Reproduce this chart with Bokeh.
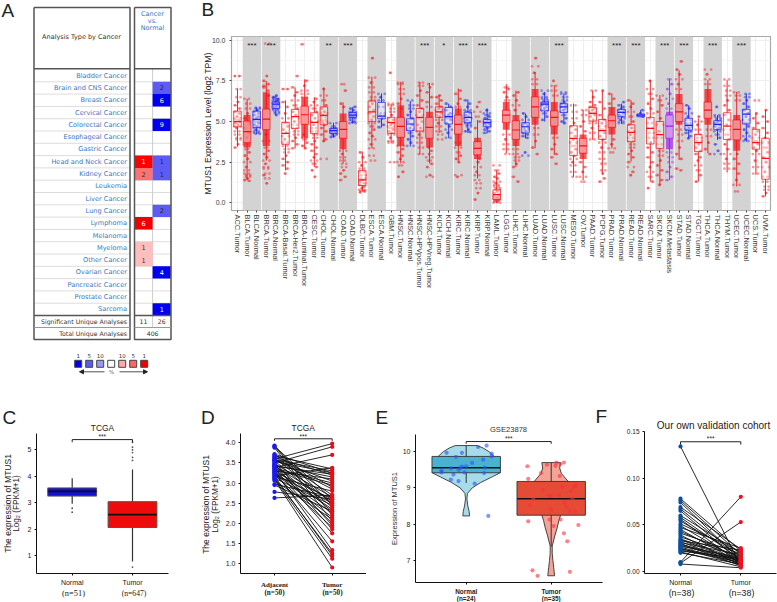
import math
from bokeh.plotting import figure
from bokeh.layouts import column, row
from bokeh.models import Label, Range1d, FixedTicker, Arrow, NormalHead
from bokeh.core.properties import value
from bokeh.embed import file_html
from bokeh.resources import INLINE

# ---------------- Panel A data ----------------
cancers = ["Bladder Cancer", "Brain and CNS Cancer", "Breast Cancer", "Cervical Cancer", "Colorectal Cancer",
           "Esophageal Cancer", "Gastric Cancer", "Head and Neck Cancer", "Kidney Cancer", "Leukemia", "Liver Cancer",
           "Lung Cancer", "Lymphoma", "Melanoma", "Myeloma", "Other Cancer", "Ovarian Cancer", "Pancreatic Cancer",
           "Prostate Cancer", "Sarcoma"]
up_rows = [7, 8, 12, 14, 15]
up_counts = [1, 2, 6, 1, 1]
up_colors = ["#ff0000", "#ff7272", "#ee0000", "#ffbdbd", "#ffbdbd"]
down_rows = [1, 2, 4, 7, 8, 11, 16, 19]
down_counts = [2, 6, 9, 1, 1, 2, 4, 1]
down_colors = ["#5c5cf5", "#0000ee", "#0000ee", "#5c5cf5", "#5c5cf5", "#5c5cf5", "#0000ee", "#0000ee"]
sig_up, sig_down, total_analyses = 11, 26, 406
legend_labels = ["1", "5", "10", "", "10", "5", "1"]
legend_colors = ["#0000ee", "#5c5cf0", "#9999f5", "#ffffff", "#ffaaaa", "#ff6666", "#ee0000"]

# ---------------- Panel B data ----------------
cats = ["ACC.Tumor", "BLCA.Tumor", "BLCA.Normal", "BRCA.Tumor", "BRCA.Normal", "BRCA-Basal.Tumor", "BRCA-Her2.Tumor",
        "BRCA-Luminal.Tumor", "CESC.Tumor", "CHOL.Tumor", "CHOL.Normal", "COAD.Tumor", "COAD.Normal", "DLBC.Tumor",
        "ESCA.Tumor", "ESCA.Normal", "GBM.Tumor", "HNSC.Tumor", "HNSC.Normal", "HNSC-HPVpos.Tumor", "HNSC-HPVneg.Tumor",
        "KICH.Tumor", "KICH.Normal", "KIRC.Tumor", "KIRC.Normal", "KIRP.Tumor", "KIRP.Normal", "LAML.Tumor", "LGG.Tumor",
        "LIHC.Tumor", "LIHC.Normal", "LUAD.Tumor", "LUAD.Normal", "LUSC.Tumor", "LUSC.Normal", "MESO.Tumor", "OV.Tumor",
        "PAAD.Tumor", "PCPG.Tumor", "PRAD.Tumor", "PRAD.Normal", "READ.Tumor", "READ.Normal", "SARC.Tumor", "SKCM.Tumor",
        "SKCM.Metastasis", "STAD.Tumor", "STAD.Normal", "TGCT.Tumor", "THCA.Tumor", "THCA.Normal", "THYM.Tumor",
        "UCEC.Tumor", "UCEC.Normal", "UCS.Tumor", "UVM.Tumor"]
q3 = [5.64,5.03,5.64,5.77,6.2,4.95,5.75,5.95,5.54,5.9,4.58,5.0,5.56,1.98,6.26,6.18,5.26,5.26,5.17,5.8,5.26,5.9,5.87,5.4,5.58,3.76,5.13,
      0.8,5.7,5.05,4.93,6.52,6.2,5.66,6.1,4.74,3.97,5.87,5.13,5.4,5.75,4.8,5.46,5.26,5.0,5.4,6.1,5.2,4.2,6.2,5.05,5.54,5.1,5.75,4.52,3.97]
med = [5.0,4.38,5.13,5.15,6.07,4.27,5.3,5.42,4.95,5.38,4.44,4.52,5.4,1.41,5.6,5.34,4.93,4.7,4.85,5.26,4.64,5.6,5.3,4.83,5.26,3.35,4.93,
       0.5,5.4,4.48,4.68,5.9,6.07,5.26,5.9,3.97,3.5,5.5,4.44,5.05,5.56,4.34,5.4,4.58,4.2,4.72,5.6,4.76,3.7,5.7,4.83,4.72,4.52,5.46,3.7,2.74]
q1 = [4.68,3.7,4.64,4.5,5.8,3.6,4.58,4.83,4.27,4.8,4.27,3.97,5.26,1.06,5.0,5.17,4.27,4.03,4.44,4.42,3.97,5.26,4.85,4.23,4.93,2.95,4.68,
      0.2,4.93,3.9,4.3,5.26,5.66,4.72,5.56,2.9,3.05,5.03,3.9,4.64,5.3,3.76,5.3,3.62,3.35,3.97,5.0,4.48,3.15,5.2,4.5,3.9,3.87,4.85,3.3,1.45]
whi = [7.03,6.4,5.87,7.5,6.6,6.3,7.1,7.6,6.5,7.1,4.93,6.18,5.9,3.15,7.75,6.73,6.1,7.44,6.26,7.44,7.38,6.63,6.1,7.03,6.36,5.1,5.8,
       2.0,7.3,6.9,5.5,8.05,6.83,7.24,6.73,6.1,5.7,6.9,6.9,6.73,6.1,6.3,5.7,7.55,6.63,7.65,8.16,6.0,5.2,7.55,5.4,7.55,6.83,6.73,5.5,5.7]
wlo = [3.46,1.4,4.23,2.6,5.4,2.0,3.35,3.35,2.2,3.76,4.03,2.43,4.9,0.7,3.35,4.64,3.66,2.43,3.46,2.95,2.43,4.3,3.97,2.54,4.3,1.5,4.27,
       0.0,3.05,2.2,3.97,3.35,5.0,2.95,4.9,1.6,1.4,3.87,1.8,3.35,4.85,2.54,5.26,1.3,1.1,1.4,2.64,3.97,1.3,3.05,3.87,1.87,1.0,3.76,1.72,0.4]
dense_idx = [1,3,7,11,17,20,23,25,28,29,31,33,36,39,45,46,49,52]
dense_lo = [3.4,3.5,4.0,3.3,3.5,3.4,3.5,2.7,4.5,3.5,4.8,4.2,2.7,4.2,3.3,4.8,4.8,3.2]
dense_hi = [5.4,6.8,6.5,5.5,6.0,5.6,5.8,4.0,6.2,5.4,7.0,6.2,4.2,5.9,5.6,6.7,7.0,5.4]
clouds = [
 [7.8,7.8,7.0,6.5,6.2,6.0,5.8,5.6,5.5,5.3,5.2,5.1,5.0,4.9,4.8,4.7,4.6,4.4,4.2,4.0,3.9,3.6,3.4],
 [6.4,6.1,5.8,5.5,5.2,4.9,4.6,4.3,4.0,3.6,3.3,3.1,2.9,2.7,2.5,2.2,2.0,1.8,1.7,1.6,1.5,1.4,1.35],
 [5.85,5.8,5.7,5.6,5.5,5.4,5.3,5.2,5.1,5.0,4.9,4.8,4.7,4.6,4.5,4.4,4.3,4.25],
 [9.8,7.8,7.5,7.3,7.1,6.9,4.2,3.8,3.4,3.2,3.0,2.8,2.6,2.4,2.2,2.1,1.8,1.5,1.2,1.7,6.6,7.2],
 [6.6,6.5,6.4,6.3,6.25,6.2,6.15,6.1,6.05,6.0,5.95,5.9,5.85,5.8,5.7,5.6,5.5,5.4,6.45,6.35],
 [7.0,7.0,6.2,5.9,5.5,5.2,4.9,4.7,4.5,4.3,4.1,3.9,3.7,3.5,3.3,3.1,2.9,2.7,2.5,2.3,2.1,1.8],
 [7.8,7.1,6.8,6.6,6.3,6.0,5.8,5.6,5.4,5.2,5.0,4.8,4.6,4.4,4.2,4.0,3.8,3.6,3.35],
 [9.75,7.5,7.2,6.9,3.9,3.7,3.5,3.35,6.7,4.2,4.0,6.5],
 [6.4,6.2,6.0,5.8,5.6,5.4,5.2,5.0,4.8,4.6,4.4,4.2,4.0,3.8,3.6,3.4,3.2,3.0,2.8,2.6,2.4,2.2,2.0,1.6],
 [7.0,6.6,6.3,6.0,5.8,5.6,5.5,5.4,5.3,5.1,5.0,4.9,4.8,4.6,4.4,4.2,3.9,3.8,2.7],
 [4.9,4.7,4.6,4.55,4.5,4.45,4.4,4.35,4.3,4.25,4.2,4.1,4.05],
 [7.3,6.9,6.1,5.9,3.2,3.0,2.8,2.6,2.4,2.2,2.0,1.8,1.6,1.4],
 [5.9,5.8,5.7,5.6,5.55,5.5,5.45,5.4,5.35,5.3,5.25,5.2,5.1,5.0,4.95,4.9],
 [3.1,2.8,2.5,2.3,2.1,1.9,1.7,1.5,1.4,1.3,1.2,1.1,1.0,0.9,0.8,0.75,0.7,0.65],
 [8.9,7.7,7.4,7.1,6.8,6.5,6.3,6.1,5.9,5.7,5.5,5.3,5.1,4.9,4.7,4.5,4.3,4.1,3.9,3.6,3.35,2.9,2.6],
 [6.7,6.5,6.3,5.9,5.5,5.35,5.2,5.0,4.8,4.65],
 [8.0,6.1,6.0,5.8,5.6,5.4,5.2,5.1,5.0,4.9,4.8,4.7,4.6,4.5,4.4,4.3,4.2,4.0,3.8,3.7,2.5],
 [7.4,7.3,7.0,6.7,6.4,6.1,3.3,3.1,2.9,2.7,2.5,2.3,1.9,1.6,5.8,3.5],
 [6.3,6.0,5.8,5.6,5.4,5.2,5.0,4.8,4.6,4.5,4.3,4.1,3.9,3.7,3.5],
 [7.4,7.2,6.9,6.6,6.3,6.0,5.8,5.6,5.4,5.2,5.0,4.8,4.6,4.4,4.2,4.0,3.7,3.4,3.0],
 [7.3,7.1,6.8,6.5,6.2,3.2,3.0,2.8,2.6,2.4,2.2,1.7,1.6,3.4,5.9],
 [6.6,6.5,6.3,6.1,5.9,5.8,5.7,5.6,5.5,5.4,5.3,5.1,4.9,4.7,4.4,4.2,3.9],
 [6.1,5.9,5.7,5.5,5.4,5.3,5.2,5.1,4.9,4.7,4.5,4.3,4.0],
 [6.9,6.7,6.4,6.1,3.4,3.1,2.9,2.7,2.5,1.7,1.6,5.9,3.7],
 [6.3,6.1,5.9,5.7,5.6,5.5,5.4,5.3,5.2,5.1,5.0,4.9,4.8,4.7,4.5,4.4,4.35],
 [6.2,5.9,5.6,5.3,5.0,4.6,2.5,2.2,1.9,1.7,1.4,1.2,0.9,0.6,0.2,2.7],
 [5.7,5.5,5.4,5.3,5.2,5.1,5.0,4.95,4.9,4.85,4.8,4.7,4.6,4.5,4.4,4.3],
 [2.3,2.0,1.8,1.6,1.5,1.3,1.2,1.1,1.0,0.9,0.8,0.7,0.6,0.5,0.4,0.35,0.3,0.25,0.2,0.15,0.1,0.05,0.0],
 [7.1,7.0,6.8,6.5,4.2,3.9,3.6,3.3,3.0,6.3],
 [6.8,6.6,6.3,6.0,5.7,3.3,3.0,2.8,2.6,2.4,2.2,1.3,1.6],
 [5.5,5.3,5.1,4.9,4.8,4.7,4.6,4.5,4.4,4.3,4.2,4.1,4.0,3.1,2.9],
 [8.9,8.4,8.0,7.6,7.3,4.6,4.2,3.8,3.4,3.0],
 [6.9,6.7,6.5,6.4,6.3,6.2,6.15,6.1,6.05,6.0,5.9,5.8,5.7,5.5,5.3,5.1],
 [7.5,7.2,6.9,6.6,4.0,3.6,3.3,3.0,2.8,2.4],
 [6.8,6.7,6.5,6.3,6.2,6.1,6.0,5.9,5.8,5.7,5.6,5.4,5.2,5.0,4.9],
 [6.0,5.6,5.2,4.9,4.7,4.5,4.3,4.1,3.9,3.7,3.5,3.3,3.1,2.9,2.7,2.5,2.3,1.9,1.6],
 [5.7,5.4,5.0,4.7,4.4,2.5,2.2,1.9,1.6,1.3],
 [6.9,6.5,6.2,6.0,5.9,5.8,5.7,5.6,5.5,5.4,5.3,5.1,4.9,4.6,4.3,3.9],
 [6.9,6.2,5.8,5.4,5.1,4.9,4.7,4.5,4.3,4.1,3.9,3.7,3.4,3.1,2.7,2.4,2.0,1.8,1.3,1.5],
 [6.7,6.4,6.1,3.9,3.6,3.35,3.1],
 [6.2,6.0,5.9,5.8,5.7,5.6,5.5,5.4,5.3,5.2,5.1,5.0,4.9],
 [6.3,6.1,5.9,5.6,5.3,5.0,4.8,4.6,4.4,4.2,4.0,3.8,3.6,3.4,3.2,3.0,2.8,2.5,1.9,1.7,2.2],
 [5.7,5.5,5.4,5.35,5.3],
 [7.5,7.0,6.7,6.4,6.1,5.8,5.5,5.2,4.9,4.6,4.3,4.0,3.7,3.4,3.1,2.8,2.5,2.2,1.9,1.6,1.3,0.9],
 [6.6,6.3,6.0,5.6,5.2,4.8,4.4,4.0,3.6,3.2,2.9,2.6,2.3,2.0,1.7,1.4,1.1],
 [7.6,7.3,7.0,6.7,6.4,6.1,5.8,3.1,2.8,2.5,2.2,1.9,1.6,1.4],
 [8.7,8.2,7.9,7.6,7.3,7.0,4.5,4.2,3.8,3.4,3.0,2.7,2.1,2.0],
 [6.0,5.8,5.5,5.3,5.1,4.9,4.8,4.7,4.6,4.5,4.4,4.3,4.1,3.97],
 [5.3,5.0,4.8,4.5,4.2,4.0,3.8,3.6,3.4,3.2,3.0,2.8,2.6,2.3,2.0,1.7,1.3],
 [8.2,7.9,7.6,7.3,4.5,4.1,3.7,3.3,3.0],
 [5.9,5.4,5.3,5.2,5.1,5.0,4.9,4.8,4.7,4.6,4.5,4.4,4.2,4.0,3.6,3.2,3.0],
 [7.6,7.2,6.9,6.6,6.3,6.0,5.7,5.4,5.1,4.8,4.5,4.2,3.9,3.6,3.3,3.0,2.7,2.4,2.1],
 [6.8,6.6,6.3,3.0,2.7,2.4,2.1,1.8,1.4,1.1,0.7],
 [6.7,6.5,6.3,6.1,5.9,5.7,5.5,5.3,5.1,4.9,4.7,4.5,4.3,4.1,3.9,3.8],
 [6.3,5.5,5.2,4.9,4.6,4.4,4.2,4.0,3.8,3.6,3.4,3.2,3.0,2.6,2.2,1.8],
 [5.7,5.3,5.0,4.6,4.3,4.0,3.7,3.4,3.1,2.8,2.5,2.2,1.9,1.6,1.3,1.0,0.8,0.6,0.4],
]
band_starts = [1, 3, 9, 11, 14, 17, 19, 21, 23, 25, 29, 31, 33, 39, 41, 44, 46, 49, 52]
star_starts = [1, 3, 9, 11, 19, 21, 23, 25, 33, 39, 41, 44, 46, 49, 52]
star_marks = ["***", "***", "**", "***", "***", "*", "***", "***", "***", "***", "***", "***", "***", "***", "***"]

# ---------------- Panel C data ----------------
c_q3 = [3.56, 3.04]
c_med = [3.43, 2.55]
c_q1 = [3.25, 2.06]
c_whi = [3.93, 4.26]
c_wlo = [2.96, 0.77]
c_out_x = [1, 1, 2, 2, 2, 2, 2, 2, 2]
c_out_y = [2.79, 2.64, 5.29, 5.1, 5.0, 4.9, 4.72, 4.6, 0.56]

# ---------------- Panel D data ----------------
d_adjacent = [3.93,3.92,3.90,3.88,3.72,3.70,3.68,3.66,3.64,3.62,3.60,3.58,3.57,3.55,3.54,3.52,3.50,3.48,3.47,3.45,3.44,3.42,3.40,3.39,3.37,
              3.36,3.34,3.33,3.31,3.30,3.28,3.27,3.25,3.24,3.22,3.20,3.18,3.17,3.15,3.13,3.12,3.10,3.08,3.06,2.97,2.95,2.78,2.63,3.58,3.42]
d_tumor = [2.2,2.6,2.45,2.05,3.25,2.9,3.35,2.7,3.2,2.5,3.98,2.85,3.05,2.4,3.25,1.95,3.9,2.65,1.85,2.3,3.15,2.55,2.0,3.7,3.0,
           1.75,2.95,2.35,1.33,3.1,2.6,2.25,1.55,2.15,2.5,1.9,3.38,1.2,2.8,1.25,2.45,1.12,0.9,2.1,2.65,2.3,2.6,2.7,3.3,3.22]

# ---------------- Panel E data ----------------
e_q3 = [9.87, 9.18]
e_med = [9.56, 8.70]
e_q1 = [9.42, 8.25]
e_whi = [10.17, 9.70]
e_wlo = [9.14, 7.38]
e_n_y = [10.17, 10.1, 10.0, 9.87, 9.6, 9.42, 9.3, 9.15, 9.0, 8.85, 8.7, 8.5, 8.35, 8.23]
e_n_w = [0.13, 0.2, 0.27, 0.33, 0.38, 0.40, 0.3, 0.17, 0.07, 0.015, 0.008, 0.02, 0.035, 0.04]
e_t_y = [9.7, 9.55, 9.4, 9.18, 8.7, 8.25, 8.1, 7.9, 7.7, 7.4, 7.2, 7.0, 6.8, 6.58]
e_t_w = [0.11, 0.1, 0.12, 0.2, 0.2, 0.11, 0.09, 0.07, 0.045, 0.012, 0.012, 0.02, 0.03, 0.04]
e_np_x = [1.24,1.14,0.95,0.77,1.3,1.3,0.88,1.2,1.07,1.0,0.95,0.91,0.82,0.71,0.71,1.22,0.98,1.21,0.85,0.82,0.91,1.1,1.26,0.93]
e_np_y = [10.17,10.13,9.97,9.97,9.95,9.87,9.86,9.78,9.69,9.6,9.59,9.5,9.54,9.48,9.43,9.56,9.43,9.41,9.37,9.23,9.19,9.12,8.23,9.55]
e_tp_x = [1.72,1.73,1.88,1.95,2.06,2.11,2.15,2.05,2.1,2.13,1.79,1.75,1.98,2.0,2.09,2.23,2.16,2.18,2.22,1.98,2.11,1.73,2.15,2.19,1.78,1.84,2.22,2.27,2.29,2.25,2.28,2.32,2.0,1.9,2.03]
e_tp_y = [9.6,9.25,9.41,9.64,9.7,9.66,9.7,9.61,9.33,9.03,8.7,8.52,8.78,8.8,8.8,8.92,8.6,8.48,8.35,8.13,8.13,8.08,7.75,7.53,6.73,6.58,6.69,9.03,9.07,8.7,8.35,7.98,8.4,8.95,7.95]

# ---------------- Panel F data ----------------
f_normal = [0.134,0.078,0.076,0.074,0.069,0.067,0.065,0.060,0.058,0.056,0.054,0.051,0.049,0.047,0.045,0.043,0.041,0.039,0.037,0.035,0.034,0.033,0.032,
            0.031,0.030,0.029,0.028,0.027,0.026,0.025,0.024,0.023,0.022,0.021,0.020,0.010,0.009,0.008]
f_tumor = [0.006,0.022,0.018,0.012,0.024,0.015,0.010,0.020,0.013,0.008,0.017,0.021,0.011,0.025,0.009,0.014,0.019,0.007,0.016,0.012,0.010,0.023,0.008,
           0.018,0.006,0.013,0.011,0.015,0.009,0.007,0.012,0.010,0.014,0.005,0.008,0.080,0.053,0.004]

SANS = "Liberation Sans"
SERIF = "Liberation Serif"
DARK = "#222222"
PAGE_W, PAGE_H = 777, 602

# transparent sheet over the whole page, for the texts that lie outside a panel's frame
sheet = figure(width=PAGE_W, height=PAGE_H, x_range=Range1d(0, PAGE_W), y_range=Range1d(PAGE_H, 0), toolbar_location=None,
               output_backend="svg", min_border=0, outline_line_color=None, border_fill_color=None,
               background_fill_color=None, margin=(-PAGE_H, 0, 0, 0))
sheet.axis.visible = False
sheet.grid.visible = False


def label(x, y, s, size, color=DARK, align="left", baseline="middle", angle=0, font=SANS, style="normal"):
    sheet.add_layout(Label(x=x, y=y, text=s, text_font_size=f"{size}px", text_color=color, text_align=align,
                           text_baseline=baseline, angle=angle, text_font=font, text_font_style=style))


def base_fig(w, h, xr, yr, left, right, top, bottom):
    p = figure(width=w, height=h, x_range=Range1d(*xr), y_range=Range1d(*yr), toolbar_location=None,
               output_backend="svg", min_border_left=left, min_border_right=right, min_border_top=top,
               min_border_bottom=bottom, outline_line_color=None, border_fill_color=None, background_fill_color=None,
               frame_align=False)
    p.grid.visible = False
    return p


def style_axes(p, yticks, ylabels=None, size="7px"):
    p.xaxis.ticker = FixedTicker(ticks=[1, 2])
    p.yaxis.ticker = FixedTicker(ticks=yticks)
    if ylabels:
        p.yaxis.major_label_overrides = ylabels
    for ax in (p.xaxis[0], p.yaxis[0]):
        ax.axis_line_color = "#111111"
        ax.axis_line_width = 1
        ax.major_tick_line_color = "#111111"
        ax.major_tick_in = 0
        ax.major_tick_out = 2
        ax.minor_tick_line_color = None
        ax.major_label_text_font = SANS
        ax.major_label_text_font_size = size
        ax.major_label_text_color = DARK
        ax.major_label_standoff = 3


def bracket(p, x0, x1, y, drop, star_y):
    p.line([x0, x0, x1, x1], [y - drop, y, y, y - drop], line_color="#222222", line_width=1)
    p.text([(x0 + x1) / 2], [star_y], text=["***"], text_font=value(SANS), text_font_size="6.5px", text_align="center",
           text_baseline="middle", text_color="#222222")


# ---------------- Panel A ----------------
RH, CW = 12.3, 18.25
A_W, A_H = 190, 395
x_a = (-(143 / CW), (A_W - 143) / CW)
y_a = ((A_H - 75.15) / RH, -(75.15) / RH)
a = base_fig(A_W, A_H, x_a, y_a, 0, 0, 0, 0)
a.axis.visible = False
X = lambda px: (px - 143) / CW
Y = lambda py: (py - 75.15) / RH

a.segment([X(33.5)] * 19 + [X(134)] * 19, [i + 0.5 for i in range(19)] * 2, [X(129.5)] * 19 + [X(170.5)] * 19,
          [i + 0.5 for i in range(19)] * 2, line_color="#dddddd", line_width=1)
a.segment([0.5], [Y(68)], [0.5], [Y(327)], line_color="#cccccc", line_width=1)
a.rect([0] * len(up_rows), up_rows, 1, 1, fill_color=up_colors, line_color=None)
a.rect([1] * len(down_rows), down_rows, 1, 1, fill_color=down_colors, line_color=None)
for x0, x1 in ((33.5, 129.5), (134, 170.5)):
    a.line([X(x0), X(x1), X(x1), X(x0), X(x0)], [Y(7), Y(7), Y(339), Y(339), Y(7)], line_color="#555555", line_width=1.5)
    a.line([X(x0), X(x1)], [Y(68.3), Y(68.3)], line_color="#555555", line_width=1.5)
    a.line([X(x0), X(x1)], [Y(315), Y(315)], line_color="#555555", line_width=1.5)
    a.line([X(x0), X(x1)], [Y(327), Y(327)], line_color="#999999", line_width=1)
TXT_A = value("DejaVu Sans")
a.text([X(126.5)] * len(cancers), list(range(len(cancers))), text=cancers, text_font=TXT_A, text_font_size="6.6px",
       text_align="right", text_baseline="middle", text_color="#3a78bd")
white_up = [c in ("#ff0000", "#ee0000") for c in up_colors]
a.text([0] * len(up_rows), up_rows, text=[str(v) for v in up_counts], text_font=TXT_A, text_font_size="6.5px",
       text_align="center", text_baseline="middle", text_color=["#ffffff" if w else "#333333" for w in white_up])
a.text([1] * len(down_rows), down_rows, text=[str(v) for v in down_counts], text_font=TXT_A, text_font_size="6.5px",
       text_align="center", text_baseline="middle",
       text_color=["#ffffff" if c == "#0000ee" else "#222244" for c in down_colors])
a.text([X(81)], [Y(36)], text=["Analysis Type by Cancer"], text_font=TXT_A, text_font_size="6.5px", text_align="center",
       text_baseline="middle", text_color="#333333")
a.text([X(152)] * 3, [Y(13), Y(20), Y(27)], text=["Cancer", "vs.", "Normal"], text_font=TXT_A, text_font_size="6.5px",
       text_align="center", text_baseline="middle", text_color="#3a78bd")
a.text([X(126.5)] * 2, [Y(321), Y(333)], text=["Significant Unique Analyses", "Total Unique Analyses"], text_font=TXT_A,
       text_font_size="6.2px", text_align="right", text_baseline="middle", text_color="#333333")
a.text([0, 1, 0.5], [Y(321), Y(321), Y(333)], text=[str(sig_up), str(sig_down), str(total_analyses)], text_font=TXT_A,
       text_font_size="6.2px", text_align="center", text_baseline="middle", text_color="#333333")
leg_x = [X(77.7 + 11 * i) for i in range(7)]
a.rect(leg_x, [Y(363.3)] * 7, 7 / CW, 7 / RH, fill_color=legend_colors, line_color="#444444", line_width=1)
a.text(leg_x, [Y(355)] * 7, text=legend_labels, text_font=TXT_A, text_font_size="5.5px", text_align="center",
       text_baseline="middle", text_color="#333333")
a.text([X(111)], [Y(371.5)], text=["%"], text_font=TXT_A, text_font_size="5.5px", text_align="center",
       text_baseline="middle", text_color="#666666")
for x0, x1 in ((104, 79), (119, 147)):
    a.add_layout(Arrow(end=NormalHead(size=4, fill_color="#222222", line_color="#222222"), x_start=X(x0), y_start=Y(371.3),
                       x_end=X(x1), y_end=Y(371.3), line_color="#222222", line_width=0.8))
label(1, 10, "A", 19)

# ---------------- Panel B ----------------
B_W, B_H = 587, 395
UY = 16.25
UX = 9.6
b = base_fig(B_W, B_H, (-(237 - 231) / UX, 55 + (770 - 765) / UX), (-(210 - 202.3) / UY, 10 + (39.8 - 36) / UY),
             41, 7, 36, 185)
b.outline_line_color = "#a8a8a8"
b.outline_line_width = 1.2
b.background_fill_color = "#ffffff"
xs = list(range(len(cats)))
b.xaxis.ticker = FixedTicker(ticks=xs)
b.xaxis.major_label_overrides = {i: c for i, c in enumerate(cats)}
b.xaxis.major_label_orientation = "vertical"
b.yaxis.ticker = FixedTicker(ticks=[0, 2.5, 5, 7.5, 10], minor_ticks=[1.25, 3.75, 6.25, 8.75])
b.yaxis.major_label_overrides = {0: "0.0", 2.5: "2.5", 5: "5.0", 7.5: "7.5", 10: "10.0"}
for ax in (b.xaxis[0], b.yaxis[0]):
    ax.axis_line_color = None
    ax.major_tick_line_color = "#444444"
    ax.major_tick_in = 0
    ax.major_tick_out = 2
    ax.minor_tick_line_color = None
    ax.major_label_text_font = SANS
    ax.major_label_text_color = "#3c3c3c"
    ax.major_label_standoff = 2
b.xaxis.major_label_text_font_size = "7.4px"
b.yaxis.major_label_text_font_size = "7px"
b.grid.visible = True
b.xgrid.grid_line_color = "#eeeeee"
b.ygrid.grid_line_color = "#eeeeee"
b.ygrid.minor_grid_line_color = "#f5f5f5"

b.quad(left=[s - 0.46 for s in band_starts], right=[s + 1.46 for s in band_starts], bottom=-0.474, top=10.234,
       fill_color="#d3d3d3", line_color=None)


def cat_color(i):
    if cats[i].endswith("Normal"):
        return "#1f1ff5"
    if cats[i].endswith("Metastasis"):
        return "#a020f0"
    return "#f50f14"


colors = [cat_color(i) for i in xs]
b.vbar(x=dense_idx, width=0.72, bottom=dense_lo, top=dense_hi, fill_color=[colors[i] for i in dense_idx], fill_alpha=0.7,
       line_color=None)
JIT = [-0.28, 0.2, -0.1, 0.32, 0.05, -0.2, 0.27, -0.33, 0.12, -0.05, 0.3, -0.16, 0.18, -0.25, 0.02, 0.34, -0.12]
px, py, pc = [], [], []
for i, vals in enumerate(clouds):
    for k, v in enumerate(vals):
        # every read value is spread over two jitter positions, as the cloud in the reference is wide
        for side in (JIT[(k + i) % len(JIT)], -JIT[(k + i + 5) % len(JIT)]):
            px.append(i + side)
            py.append(v)
            pc.append(colors[i])
b.scatter(px, py, size=2.8, fill_color=pc, fill_alpha=0.42, line_color=None)
b.segment(xs, whi, xs, q3, line_color=colors, line_width=1, line_alpha=0.9)
b.segment(xs, wlo, xs, q1, line_color=colors, line_width=1, line_alpha=0.9)
b.vbar(x=xs, width=0.78, bottom=q1, top=q3, fill_color="#ffffff", fill_alpha=0.38, line_color=colors, line_alpha=0.75, line_width=1)
b.segment([x - 0.39 for x in xs], med, [x + 0.39 for x in xs], med, line_color=colors, line_width=1.2)
b.text([s + 0.5 for s in star_starts], [9.7] * len(star_starts), text=star_marks, text_font=value(SANS), text_font_size="8px",
       text_align="center", text_baseline="middle", text_color="#222222")
label(201, 9, "B", 19)
label(207, 123, "MTUS1 Expression Level (log2 TPM)", 8.6, "#222222", "center", "middle", math.pi / 2)

# ---------------- Bottom row ----------------
C_W, D_W, E_W, F_W = 180, 186, 244, 167
R_H = 207

# Panel C
sc = 60.3
su = 26.4
c = base_fig(C_W, R_H, (1 - (71.7 - 36) / sc, 1 + (168 - 71.7) / sc), (1 - (573 - 555) / su, 1 + (555 - 433) / su),
             36, 12, 38, 29)
style_axes(c, [1, 2, 3, 4, 5])
c.xaxis.major_label_overrides = {1: "Normal", 2: "Tumor"}
c.segment([1, 2], c_whi, [1, 2], c_wlo, line_color="#333333", line_width=1.2)
c.vbar(x=[1, 2], width=0.81, bottom=c_q1, top=c_q3, fill_color=["#1111d8", "#ee0b0b"], line_color="#555555", line_width=1)
c.segment([0.595, 1.595], c_med, [1.405, 2.405], c_med, line_color="#111111", line_width=1.8)
c.scatter(c_out_x, c_out_y, size=1.8, fill_color="#555555", line_color=None)
bracket(c, 1, 2, 5.39, 0.1, 5.49)
label(2, 417, "C", 19)
label(102, 427, "TCGA", 8.4, align="center")
label(7, 503, "The expression of MTUS1", 8.5, align="center", angle=math.pi / 2)
label(16, 503, "Log\u2082 (FPKM+1)", 8.2, align="center", angle=math.pi / 2)
label(73, 593, "(n=51)", 8.4, align="center", font=SERIF)
label(133.5, 593, "(n=647)", 7.6, align="center", font=SERIF)

# Panel D
sd = 57.7
ud = 40.23
d = base_fig(D_W, R_H, (1 - (274 - 240) / sd, 1 + (366 - 274) / sd), (1 - (573 - 563) / ud, 1 + (563 - 433) / ud),
             60, 0, 38, 29)
style_axes(d, [1, 1.5, 2, 2.5, 3, 3.5, 4], {1: "1.0", 1.5: "1.5", 2: "2.0", 2.5: "2.5", 3: "3.0", 3.5: "3.5", 4: "4.0"})
d.xaxis.major_label_overrides = {1: "Adjacent", 2: "Tumor"}
d.xaxis.major_label_text_font = SERIF
d.xaxis.major_label_text_font_style = "bold"
d.xaxis.major_label_text_font_size = "7px"
d.xaxis.major_label_standoff = 5
d.segment([1] * 50, d_adjacent, [2] * 50, d_tumor, line_color="#111111", line_width=0.9)
d.scatter([1] * 50, d_adjacent, size=4.2, fill_color="#1a1af0", line_color=None)
d.scatter([2] * 50, d_tumor, size=4.2, fill_color="#f00a14", line_color=None)
bracket(d, 1, 2, 4.1, 0.05, 4.16)
label(200.5, 417, "D", 19)
label(302.7, 427, "TCGA", 8.4, align="center")
label(205, 504, "The expression of MTUS1", 8.5, align="center", angle=math.pi / 2)
label(215, 504, "Log\u2082 (FPKM+1)", 8.2, align="center", angle=math.pi / 2)
label(274, 592.5, "(n=50)", 7.2, align="center", font=SERIF, style="bold")
label(332, 592.5, "(n=50)", 7.2, align="center", font=SERIF, style="bold")

# Panel E
se = 85.0
ue = 36.35
e = base_fig(E_W, R_H, (1 - (465.7 - 415) / se, 1 + (602 - 465.7) / se), (7 - (582.3 - 560.3) / ue, 7 + (560.3 - 434) / ue),
             49, 8, 39, 20)
style_axes(e, [7, 8, 9, 10])
e.xaxis.major_label_overrides = {1: "Normal", 2: "Tumor"}
e.xaxis.major_label_text_font_size = "6.4px"
e.xaxis.major_label_text_font_style = "bold"
e.patch([1 + w for w in e_n_w] + [1 - w for w in reversed(e_n_w)], e_n_y + e_n_y[::-1], fill_color="#a6dcea",
        line_color="#333333", line_width=0.9)
e.patch([2 + w for w in e_t_w] + [2 - w for w in reversed(e_t_w)], e_t_y + e_t_y[::-1], fill_color="#f4a396",
        line_color="#333333", line_width=0.9)
e.segment([1, 2], e_whi, [1, 2], e_wlo, line_color="#333333", line_width=1)
e.vbar(x=[1, 2], width=0.805, bottom=e_q1, top=e_q3, fill_color=["#48b3cf", "#e64b35"], line_color="#333333", line_width=0.9)
e.segment([0.6, 1.6], e_med, [1.4, 2.4], e_med, line_color="#111111", line_width=1.5)
e.scatter(e_np_x, e_np_y, size=4.2, fill_color="#3050f5", fill_alpha=0.6, line_color=None)
e.scatter(e_tp_x, e_tp_y, size=4.2, fill_color="#f53040", fill_alpha=0.6, line_color=None)
bracket(e, 1, 2, 10.28, 0.06, 10.36)
label(375, 417, "E", 19)
label(508, 429, "GSE23878", 7.6, "#333333", align="center")
label(394, 508, "Expression of MTUS1", 7.5, "#333333", align="center", angle=math.pi / 2)
label(465.7, 598, "(n=24)", 6.3, align="center", style="bold")
label(550.7, 598, "(n=35)", 6.3, align="center", style="bold")

# Panel F
sf = 60.3
uf = 46.55
f = base_fig(F_W, R_H, (1 - (680 - 644) / sf, 1 + (776 - 680) / sf), (-(573 - 571) / uf * 0.05, 0.15),
             34, 1, 36, 29)
style_axes(f, [0, 0.05, 0.1, 0.15], {0: "0.00", 0.05: "0.05", 0.1: "0.10", 0.15: "0.15"}, "6.5px")
f.xaxis.major_label_overrides = {1: "Normal", 2: "Tumor"}
f.xaxis.major_label_text_font_size = "7px"
f.segment([1] * 38, f_normal, [2] * 38, f_tumor, line_color="#111111", line_width=0.9)
f.scatter([1] * 38, f_normal, size=4.2, fill_color="#0d4f9f", line_color=None)
f.scatter([2] * 38, f_tumor, size=4.2, fill_color="#f30f1e", line_color=None)
bracket(f, 1, 2, 0.139, 0.003, 0.1425)
label(595, 416, "F", 19)
label(713, 425, "Our own validation cohort", 10, align="center")
label(681, 592, "(n=38)", 8.8, align="center")
label(741, 592, "(n=38)", 8.8, align="center")

top = row(a, b, spacing=0)
bottom = row(c, d, e, f, spacing=0)
page = column(top, bottom, sheet, spacing=0)
open("out.html", "w").write(file_html(page, INLINE))
